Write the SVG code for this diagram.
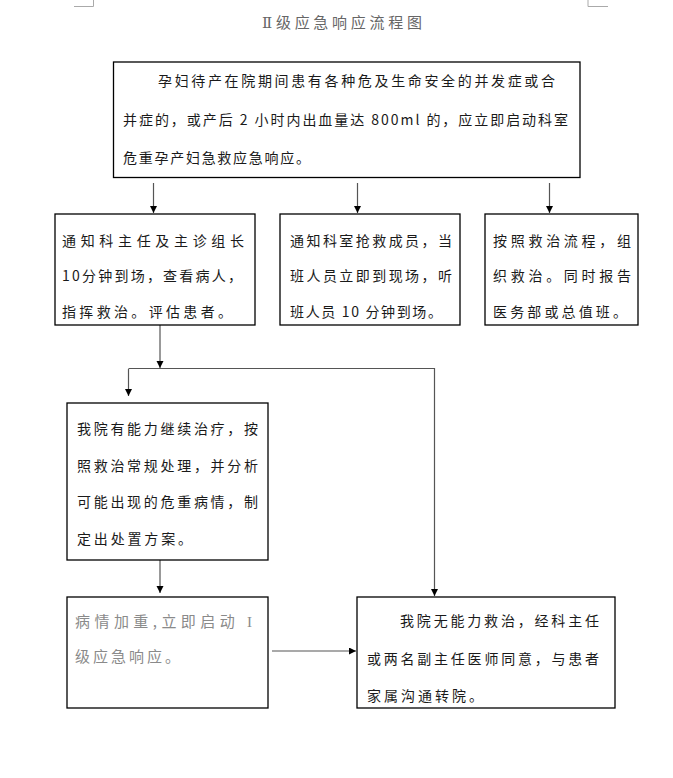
<svg xmlns="http://www.w3.org/2000/svg" width="673" height="778" viewBox="0 0 673 778">
<style>
.box{fill:#fff;stroke:#000;stroke-width:1.3}
.t{font-family:"Noto Sans CJK SC","Liberation Sans",sans-serif;font-size:14px;fill:#1a1a1a}
.g{font-family:"Noto Sans CJK SC","Liberation Sans",sans-serif;font-size:15px;fill:#8a8a8a}
.title{font-family:"Noto Sans CJK SC","Liberation Serif",serif;font-size:15px;fill:#666}
.rn{font-family:"DejaVu Serif","Liberation Serif",serif}
.ls{font-family:"Liberation Serif",serif}
.ln{fill:none;stroke:#555;stroke-width:1.2}
.mark{fill:none;stroke:#aaa;stroke-width:1}
</style>
<defs>
<marker id="ah" markerUnits="userSpaceOnUse" markerWidth="8" markerHeight="8" refX="7" refY="3.5" orient="auto">
<path d="M0,0 L7,3.5 L0,7 z" fill="#000"/>
</marker>
</defs>
<rect width="673" height="778" fill="#fff"/>
<g id="marks">
<polyline class="mark" points="74,6.5 93.5,6.5 93.5,0"/>
<polyline class="mark" points="588,0 588,6.5 608,6.5"/>
</g>
<g id="title">
<text class="title" x="262" y="28" textLength="160" lengthAdjust="spacing"><tspan class="rn">Ⅱ</tspan>级应急响应流程图</text>
</g>
<g id="connectors">
<line class="ln" x1="153.5" y1="183" x2="153.5" y2="213" marker-end="url(#ah)"/>
<line class="ln" x1="357.5" y1="183" x2="357.5" y2="213" marker-end="url(#ah)"/>
<line class="ln" x1="549.5" y1="183" x2="549.5" y2="213" marker-end="url(#ah)"/>
<line class="ln" x1="160" y1="325" x2="160" y2="368" marker-end="url(#ah)"/>
<polyline class="ln" points="128.5,368.5 434.5,368.5 434.5,596" marker-end="url(#ah)"/>
<line class="ln" x1="128.5" y1="369" x2="128.5" y2="396" marker-end="url(#ah)"/>
<line class="ln" x1="160" y1="560" x2="160" y2="593" marker-end="url(#ah)"/>
<line class="ln" x1="272" y1="651" x2="356" y2="651" marker-end="url(#ah)"/>
</g>
<g id="n0">
<rect class="box" x="113.5" y="62" width="466.5" height="115.5"/>
<text class="t" x="158" y="86" textLength="397" lengthAdjust="spacing">孕妇待产在院期间患有各种危及生命安全的并发症或合</text>
<text class="t" x="123" y="125" textLength="445" lengthAdjust="spacing">并症的，或产后 2 小时内出血量达 800ml 的，应立即启动科室</text>
<text class="t" x="123" y="163" textLength="187" lengthAdjust="spacing">危重孕产妇急救应急响应。</text>
</g>
<g id="n1">
<rect class="box" x="55" y="214" width="200" height="111"/>
<text class="t" x="62" y="246" textLength="182" lengthAdjust="spacing">通知科主任及主诊组长</text>
<text class="t" x="62" y="281" textLength="180" lengthAdjust="spacing">10分钟到场，查看病人，</text>
<text class="t" x="62" y="317" textLength="170" lengthAdjust="spacing">指挥救治。评估患者。</text>
</g>
<g id="n2">
<rect class="box" x="280" y="214" width="180" height="111"/>
<text class="t" x="290" y="246" textLength="162" lengthAdjust="spacing">通知科室抢救成员，当</text>
<text class="t" x="290" y="281" textLength="162" lengthAdjust="spacing">班人员立即到现场，听</text>
<text class="t" x="290" y="317" textLength="152" lengthAdjust="spacing">班人员 10 分钟到场。</text>
</g>
<g id="n3">
<rect class="box" x="485" y="214" width="153" height="111"/>
<text class="t" x="493" y="246" textLength="138" lengthAdjust="spacing">按照救治流程，组</text>
<text class="t" x="493" y="281" textLength="138" lengthAdjust="spacing">织救治。同时报告</text>
<text class="t" x="493" y="317" textLength="134" lengthAdjust="spacing">医务部或总值班。</text>
</g>
<g id="n4">
<rect class="box" x="67" y="403" width="201" height="157"/>
<text class="t" x="77" y="434" textLength="181" lengthAdjust="spacing">我院有能力继续治疗，按</text>
<text class="t" x="77" y="471" textLength="181" lengthAdjust="spacing">照救治常规处理，并分析</text>
<text class="t" x="77" y="507" textLength="181" lengthAdjust="spacing">可能出现的危重病情，制</text>
<text class="t" x="77" y="544" textLength="115" lengthAdjust="spacing">定出处置方案。</text>
</g>
<g id="n5">
<rect class="box" x="67" y="597" width="201" height="111"/>
<text class="g" x="75" y="627" textLength="177" lengthAdjust="spacing">病情加重,立即启动 <tspan class="ls">I</tspan></text>
<text class="g" x="75" y="662" textLength="105" lengthAdjust="spacing">级应急响应。</text>
</g>
<g id="n6">
<rect class="box" x="357" y="597" width="258" height="111"/>
<text class="t" x="400" y="626" textLength="199" lengthAdjust="spacing">我院无能力救治，经科主任</text>
<text class="t" x="367" y="664" textLength="232" lengthAdjust="spacing">或两名副主任医师同意，与患者</text>
<text class="t" x="367" y="701" textLength="116" lengthAdjust="spacing">家属沟通转院。</text>
</g>
</svg>
